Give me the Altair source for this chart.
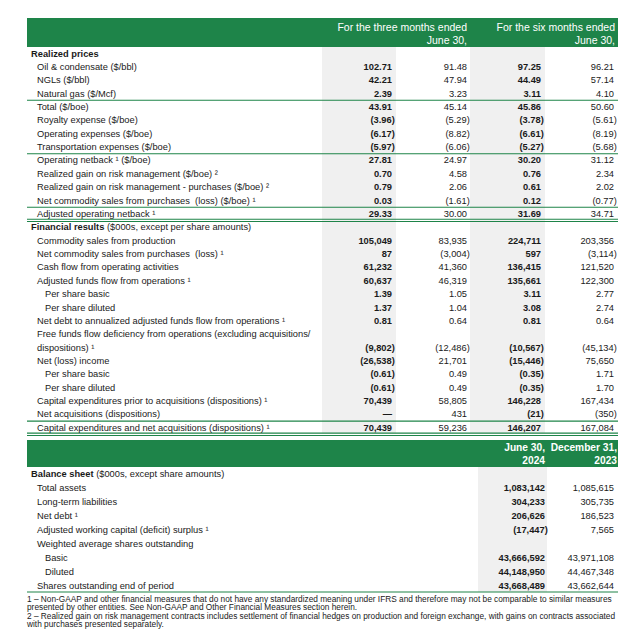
import altair as alt
import pandas as pd

# ---------------- data ----------------
sec1_labels = [
    "Realized prices",
    "Oil & condensate ($/bbl)",
    "NGLs ($/bbl)",
    "Natural gas ($/Mcf)",
    "Total ($/boe)",
    "Royalty expense ($/boe)",
    "Operating expenses ($/boe)",
    "Transportation expenses ($/boe)",
    "Operating netback \u00b9 ($/boe)",
    "Realized gain on risk management ($/boe) \u00b2",
    "Realized gain on risk management - purchases ($/boe) \u00b2",
    "Net commodity sales from purchases \u00a0(loss) ($/boe) \u00b9",
    "Adjusted operating netback \u00b9",
    "Financial results",
    "Commodity sales from production",
    "Net commodity sales from purchases \u00a0(loss) \u00b9",
    "Cash flow from operating activities",
    "Adjusted funds flow from operations \u00b9",
    "Per share basic",
    "Per share diluted",
    "Net debt to annualized adjusted funds flow from operations \u00b9",
    "Free funds flow deficiency from operations (excluding acquisitions/",
    "dispositions) \u00b9",
    "Net (loss) income",
    "Per share basic",
    "Per share diluted",
    "Capital expenditures prior to acquisitions (dispositions) \u00b9",
    "Net acquisitions (dispositions)",
    "Capital expenditures and net acquisitions (dispositions) \u00b9",
]
q2_2024 = [None, "102.71", "42.21", "2.39", "43.91", "(3.96)", "(6.17)", "(5.97)", "27.81", "0.70", "0.79", "0.03", "29.33",
           None, "105,049", "87", "61,232", "60,637", "1.39", "1.37", "0.81", None, "(9,802)", "(26,538)", "(0.61)", "(0.61)",
           "70,439", "\u2014", "70,439"]
q2_2023 = [None, "91.48", "47.94", "3.23", "45.14", "(5.29)", "(8.82)", "(6.06)", "24.97", "4.58", "2.06", "(1.61)", "30.00",
           None, "83,935", "(3,004)", "41,360", "46,319", "1.05", "1.04", "0.64", None, "(12,486)", "21,701", "0.49", "0.49",
           "58,805", "431", "59,236"]
h1_2024 = [None, "97.25", "44.49", "3.11", "45.86", "(3.78)", "(6.61)", "(5.27)", "30.20", "0.76", "0.61", "0.12", "31.69",
           None, "224,711", "597", "136,415", "135,661", "3.11", "3.08", "0.81", None, "(10,567)", "(15,446)", "(0.35)", "(0.35)",
           "146,228", "(21)", "146,207"]
h1_2023 = [None, "96.21", "57.14", "4.10", "50.60", "(5.61)", "(8.19)", "(5.68)", "31.12", "2.34", "2.02", "(0.77)", "34.71",
           None, "203,356", "(3,114)", "121,520", "122,300", "2.77", "2.74", "0.64", None, "(45,134)", "75,650", "1.71", "1.70",
           "167,434", "(350)", "167,084"]
sec1_suffix = {13: "($000s, except per share amounts)"}

bal_labels = [
    "Balance sheet",
    "Total assets",
    "Long-term liabilities",
    "Net debt \u00b9",
    "Adjusted working capital (deficit) surplus \u00b9",
    "Weighted average shares outstanding",
    "Basic",
    "Diluted",
    "Shares outstanding end of period",
]
jun_2024 = [None, "1,083,142", "304,233", "206,626", "(17,447)", None, "43,666,592", "44,148,950", "43,668,489"]
dec_2023 = [None, "1,085,615", "305,735", "186,523", "7,565", None, "43,971,108", "44,467,348", "43,662,644"]
bal_suffix = {0: "($000s, except share amounts)"}

header1 = [["For the three months ended", "June 30,"], ["For the six months ended", "June 30,"]]
header2 = [["June 30,", "2024"], ["December 31,", "2023"]]

footnotes = [
    "1 \u2013 Non-GAAP and other financial measures that do not have any standardized meaning under IFRS and therefore may not be comparable to similar measures",
    "presented by other entities. See Non-GAAP and Other Financial Measures section herein.",
    "2 \u2013 Realized gain on risk management contracts includes settlement of financial hedges on production and foreign exchange, with gains on contracts associated",
    "with purchases presented separately.",
]

# ---------------- layout ----------------
GREEN = "#1e8449"
GREY = "#f0f0f0"
INK = "#1a1a1a"
FONT = "Liberation Sans"
FS = 9.3
LEFT, RIGHT = 27, 618

sec1_bold_rows = {0, 13}
bal_bold_rows = {0}
sub_rows_1 = {18, 19, 24, 25}
sub_rows_b = {6, 7}

def y1(i):
    return 53.5 + 13.37 * i

def yb(j):
    return 473.5 + 14.0 * j

bold_w = {" ": 278, "B": 722, "F": 611, "R": 722, "a": 556, "c": 556, "e": 556, "h": 611, "i": 278,
          "l": 278, "n": 611, "r": 389, "s": 556, "t": 333, "u": 611, "z": 500, "d": 611, "p": 611}

def bw(s):
    return sum(bold_w.get(ch, 556) for ch in s) * FS / 1000.0

def indent(level):
    return {0: 31, 1: 37, 2: 45}[level]

lab_norm, lab_bold, val_norm, val_bold = [], [], [], []

col_x1 = [392, 467, 541, 614]
cols1 = [q2_2024, q2_2023, h1_2024, h1_2023]
for i, lab in enumerate(sec1_labels):
    y = y1(i)
    if i in sec1_bold_rows:
        lab_bold.append({"x": indent(0), "y": y, "t": lab})
        suf = sec1_suffix.get(i, "")
        if suf:
            lab_norm.append({"x": indent(0) + bw(lab + " "), "y": y, "t": suf})
    else:
        lvl = 2 if i in sub_rows_1 else 1
        lab_norm.append({"x": indent(lvl), "y": y, "t": lab})
    for c, (xc, arr) in enumerate(zip(col_x1, cols1)):
        v = arr[i]
        if v is None:
            continue
        xv = xc + (2.8 if v.endswith(")") else 0)
        (val_bold if c in (0, 2) else val_norm).append({"x": xv, "y": y, "t": v})

col_xb = [545, 614]
colsb = [jun_2024, dec_2023]
for j, lab in enumerate(bal_labels):
    y = yb(j)
    if j in bal_bold_rows:
        lab_bold.append({"x": indent(0), "y": y, "t": lab})
        suf = bal_suffix.get(j, "")
        if suf:
            lab_norm.append({"x": indent(0) + bw(lab + " "), "y": y, "t": suf})
    else:
        lvl = 2 if j in sub_rows_b else 1
        lab_norm.append({"x": indent(lvl), "y": y, "t": lab})
    for c, (xc, arr) in enumerate(zip(col_xb, colsb)):
        v = arr[j]
        if v is None:
            continue
        xv = xc + (2.8 if v.endswith(")") else 0)
        (val_bold if c == 0 else val_norm).append({"x": xv, "y": y, "t": v})

# rectangles
sec1_bottom = y1(len(sec1_labels) - 1) + 5.5
bal_bottom = yb(len(bal_labels) - 1) + 6.5
rects = [
    {"x": LEFT, "x2": RIGHT, "y": 18, "y2": 47, "k": "green"},
    {"x": LEFT, "x2": RIGHT, "y": 440, "y2": 467, "k": "green"},
    {"x": 322, "x2": 396, "y": 47, "y2": sec1_bottom, "k": "grey"},
    {"x": 470, "x2": 545, "y": 47, "y2": sec1_bottom, "k": "grey"},
    {"x": 478, "x2": 547, "y": 467, "y2": bal_bottom, "k": "grey"},
]

# rules
rules = []
for a in (3, 7, 11, 27):
    rules.append({"x": LEFT, "x2": RIGHT, "y": (y1(a) + y1(a + 1)) / 2})
for a in (12, 28):
    rules.append({"x": LEFT, "x2": RIGHT, "y": y1(a) + 5.3})
    rules.append({"x": LEFT, "x2": RIGHT, "y": y1(a) + 7.6})
rules.append({"x": LEFT, "x2": RIGHT, "y": bal_bottom})

# header texts
hdr1 = []
for xr, lines in zip([467, 615], header1):
    for k, t in enumerate(lines):
        hdr1.append({"x": xr, "y": 27.5 + 13 * k, "t": t})
hdr2 = []
for xr, lines in zip([545, 617], header2):
    for k, t in enumerate(lines):
        hdr2.append({"x": xr, "y": 448 + 12.5 * k, "t": t})

foot = [{"x": LEFT, "y": 599.5 + 8.5 * k, "t": t} for k, t in enumerate(footnotes)]

# ---------------- chart ----------------
W, H = 624, 622
xs = alt.Scale(domain=[8, 8 + W], nice=False, zero=False)
ys = alt.Scale(domain=[8, 8 + H], nice=False, zero=False, reverse=True)
X = lambda f="x": alt.X(f"{f}:Q", scale=xs, axis=None)
Y = lambda f="y": alt.Y(f"{f}:Q", scale=ys, axis=None)

rect_layer = alt.Chart(pd.DataFrame(rects)).mark_rect().encode(
    x=X(), x2="x2:Q", y=Y(), y2="y2:Q",
    color=alt.Color("k:N", scale=alt.Scale(domain=["green", "grey"], range=[GREEN, GREY]), legend=None),
)
rule_layer = alt.Chart(pd.DataFrame(rules)).mark_rule(color=GREEN, strokeWidth=1.1).encode(
    x=X(), x2="x2:Q", y=Y()
)

def text_layer(rows, align, weight="normal", size=FS, color=INK):
    return alt.Chart(pd.DataFrame(rows)).mark_text(
        align=align, baseline="middle", font=FONT, fontSize=size, fontWeight=weight, color=color
    ).encode(x=X(), y=Y(), text="t:N")

layers = [
    rect_layer,
    rule_layer,
    text_layer(lab_norm, "left"),
    text_layer(lab_bold, "left", "bold"),
    text_layer(val_norm, "right"),
    text_layer(val_bold, "right", "bold"),
    text_layer(hdr1, "right", "normal", 10.5, "white"),
    text_layer(hdr2, "right", "bold", 10.2, "white"),
    text_layer(foot, "left", "normal", 8.3),
]

chart = alt.layer(*layers).properties(
    width=W, height=H, padding=0, autosize=alt.AutoSizeParams(type="none"), background="white"
).configure_view(stroke=None)

chart.save("out.html", embed_options={"renderer": "svg", "actions": False})
